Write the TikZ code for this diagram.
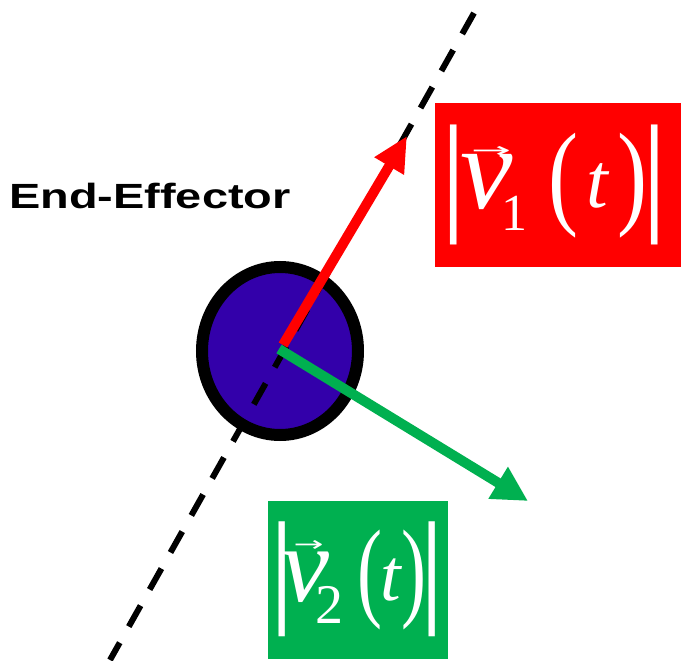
\documentclass[tikz,border=0pt]{standalone}
\usepackage{fontspec}
\setmainfont{Liberation Serif}
\newfontfamily\sansbold{Liberation Sans}
\newfontfamily\arrowfont{DejaVu Sans}
\usetikzlibrary{arrows.meta,shapes.geometric}
\definecolor{eeblue}{RGB}{51,0,170}
\definecolor{vgreen}{RGB}{0,176,80}
\definecolor{vred}{RGB}{255,0,0}
\newcommand\mybar[1]{\resizebox*{!}{#1}{|}}
\newcommand\myparen[3]{\resizebox*{#1}{#2}{#3}}
\newcommand\myarrow[1]{\resizebox{#1}{11pt}{\arrowfont →}}
\begin{document}
\begin{tikzpicture}[x=1pt,y=-1pt,
  glyph/.style={inner sep=0pt, outer sep=0pt, text=white},
  formbox/.style={inner sep=0pt, outer sep=0pt, anchor=north west},
  vec/.style={line width=10pt, line cap=butt},
  dashline/.style={line width=6pt, dash pattern=on 24pt off 18.5pt, line cap=butt}]
\useasboundingbox (0,0) rectangle (681,661);
\fill[white] (0,0) rectangle (681,661);

% end-effector
\node[ellipse, draw=black, fill=eeblue, line width=12pt, inner sep=0pt,
      minimum width=156pt, minimum height=168pt] (ee) at (280,351) {};

% trajectory line
\coordinate (dtop) at (474,13);
\coordinate (dbot) at (110,660);
\draw[dashline] (dtop) -- (dbot);

% velocity vectors
\coordinate (r0) at (283,345);
\coordinate (r1) at (407,136);
\coordinate (g0) at (279,349);
\coordinate (g1) at (528,501);
\draw[vec, draw=vred, -{Triangle[length=35pt, width=32pt]}] (r0) -- (r1);
\draw[vec, draw=vgreen, -{Triangle[length=35pt, width=35pt]}] (g0) -- (g1);

% label
\node[anchor=base west, inner sep=0pt, font=\sansbold\bfseries\fontsize{35}{35}\selectfont] (lab) at (9,208) {\scalebox{1.34}[1]{End-Effector}};

% red formula box
\node[formbox, fill=vred, minimum width=246pt, minimum height=164pt] (rbox) at (435,103) {};
\node[glyph, anchor=north] (rb1) at (453.7,125) {\mybar{120pt}};
\node[glyph, anchor=north] (rb2) at (654.3,125) {\mybar{120pt}};
\node[glyph] (rar) at (491,152) {\myarrow{40pt}};
\node[glyph, anchor=base, font=\itshape\fontsize{118}{118}\selectfont] (rv) at (487,208) {v};
\node[glyph, anchor=base, font=\fontsize{52}{52}\selectfont] (rs) at (514,230) {1};
\node[glyph, anchor=north] (rp1) at (563,133) {\myparen{30pt}{105pt}{(}};
\node[glyph, anchor=base, font=\itshape\fontsize{78}{78}\selectfont] (rt) at (597,207) {t};
\node[glyph, anchor=north] (rp2) at (632,133) {\myparen{30pt}{105pt}{)}};

% green formula box
\node[formbox, fill=vgreen, minimum width=180pt, minimum height=158pt] (gbox) at (268,501) {};
\node[glyph, anchor=north] (gb1) at (282.3,522) {\mybar{115pt}};
\node[glyph, anchor=north] (gb2) at (431.7,522) {\mybar{115pt}};
\node[glyph] (gar) at (308.5,546) {\myarrow{30pt}};
\node[glyph, anchor=base, font=\itshape\fontsize{108}{108}\selectfont] (gv) at (305,601) {v};
\node[glyph, anchor=base, font=\fontsize{56}{56}\selectfont] (gs) at (329,623) {2};
\node[glyph, anchor=north] (gp1) at (370,530) {\myparen{25pt}{100pt}{(}};
\node[glyph, anchor=base, font=\itshape\fontsize{74}{74}\selectfont] (gt) at (391,600) {t};
\node[glyph, anchor=north] (gp2) at (414,530) {\myparen{25pt}{100pt}{)}};
\end{tikzpicture}
\end{document}
